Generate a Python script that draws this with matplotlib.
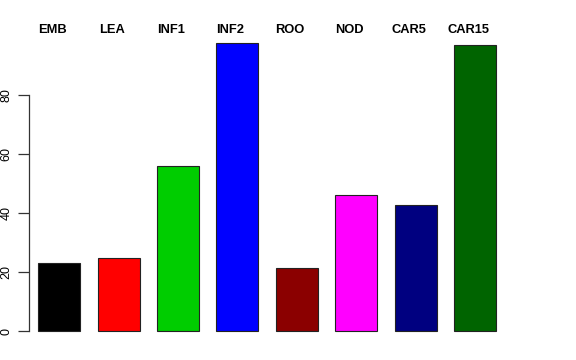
import matplotlib
matplotlib.use("Agg")
import matplotlib.pyplot as plt

# -----------------------------------------------------------------------------
# Data
# -----------------------------------------------------------------------------
categories = ["EMB", "LEA", "INF1", "INF2", "ROO", "NOD", "CAR5", "CAR15"]
values = [23.0, 24.8, 56.0, 97.7, 21.5, 46.2, 42.8, 96.9]
bar_colors = ["#000000", "#FF0000", "#00CD00", "#0000FF",
              "#8B0000", "#FF00FF", "#000080", "#006400"]
y_ticks = [0, 20, 40, 60, 80]

plt.rcParams['font.family'] = ['Liberation Sans', 'DejaVu Sans']

# -----------------------------------------------------------------------------
# Figure / axes (R barplot look)
# -----------------------------------------------------------------------------
fig = plt.figure(figsize=(5.76, 3.6), dpi=100)
ax = fig.add_axes([0.0503, 0.0486, 0.8563, 0.8636])

centers = [0.624 + 1.2 * i for i in range(len(categories))]
ax.bar(centers, values, width=0.848, color=bar_colors,
       edgecolor="#222222", linewidth=0.8)

ax.set_xlim(0.012, 9.976)
ax.set_ylim(-3.9, 101.5)

# category labels on top
for c, name in zip(centers, categories):
    ax.text(c - 0.14, 102.0, name, ha="center", va="center",
            fontsize=9.3, fontweight="bold", clip_on=False)

# -----------------------------------------------------------------------------
# Axes styling
# -----------------------------------------------------------------------------
for side in ["top", "right", "bottom"]:
    ax.spines[side].set_visible(False)
ax.spines["left"].set_bounds(0, 80)
ax.spines["left"].set_color("#333333")
ax.spines["left"].set_linewidth(0.9)
ax.set_xticks([])
ax.set_yticks(y_ticks)
ax.set_yticklabels([str(t) for t in y_ticks], rotation=90, va="center",
                   fontsize=9)
ax.tick_params(axis="y", length=8, width=0.9, color="#333333", pad=4)

fig.savefig("out.png", dpi=100)
